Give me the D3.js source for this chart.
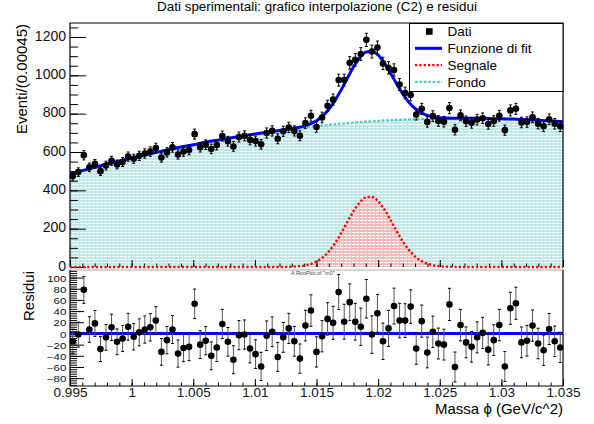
<!DOCTYPE html>
<html>
<head>
<meta charset="utf-8">
<script src="https://cdn.jsdelivr.net/npm/d3@7"></script>
<style>
body { margin: 0; background: #fff; }
text { font-family: 'Liberation Sans', Arial, sans-serif; }
</style>
</head>
<body>
<div id="chart"></div>
<script>
const width = 594
const height = 424
const left = 70
const right = 563
const top_y0 = 23
const top_y1 = 267
const res_y0 = 270
const res_y1 = 386

// histogram binning
const mass_min = 0.995
const mass_max = 1.035
const n_bins = 89

// events per bin
const counts = [475, 495, 583, 520, 538, 500, 529, 554, 535, 548,
    576, 565, 580, 592, 602, 621, 571, 598, 624, 587,
    602, 610, 693, 625, 638, 616, 636, 683, 656, 629,
    678, 684, 663, 657, 640, 699, 710, 669, 708, 728,
    710, 685, 751, 789, 730, 780, 841, 873, 975, 975,
    1065, 1081, 1111, 1185, 1124, 1145, 1062, 1039, 1028, 952,
    908, 897, 795, 825, 757, 787, 762, 758, 829, 716,
    791, 760, 752, 769, 776, 746, 762, 789, 714, 817,
    825, 754, 756, 781, 748, 734, 771, 747, 734]

// residuals (data - fit)
const residuals = [-14, -2, 78, 7, 18, -28, -7, 11, -15, -9,
    12, -6, 2, 7, 11, 23, -33, -12, 7, -36,
    -26, -24, 53, -20, -13, -40, -25, 17, -15, -47,
    -3, -2, -27, -37, -59, -4, 3, -42, -7, 9,
    -14, -45, 14, 41, -33, -5, 26, 19, 74, 21,
    56, 21, 12, 62, -2, 36, -14, 9, 49, 23,
    23, 48, -27, 22, -34, 3, -18, -20, 52, -60,
    15, -16, -24, -7, 1, -29, -12, 15, -59, 45,
    54, -16, -13, 14, -18, -30, 8, -14, -25]

// fit curves sampled along the mass axis
const fit_mass = [0.995, 0.996, 0.997, 0.998, 0.999, 1.000, 1.001, 1.002, 1.003, 1.004,
    1.005, 1.006, 1.007, 1.008, 1.009, 1.010, 1.011, 1.012,
    1.0125, 1.013, 1.0135, 1.014, 1.0145, 1.015, 1.0155, 1.016, 1.0165, 1.017,
    1.0175, 1.018, 1.0185, 1.019, 1.0195, 1.020, 1.0205, 1.021, 1.0215, 1.022,
    1.0225, 1.023, 1.0235, 1.024, 1.0245, 1.025, 1.0255, 1.026, 1.0265,
    1.027, 1.028, 1.029, 1.030, 1.031, 1.032, 1.033, 1.034, 1.035]
const fit_total = [485, 503, 520, 537, 553, 569, 584, 598, 612, 626,
    638, 651, 662, 673, 684, 694, 703, 712,
    717, 722, 728, 735, 747, 763, 788, 823, 869, 924,
    985, 1044, 1092, 1121, 1126, 1106, 1065, 1012, 956, 903,
    859, 827, 805, 791, 783, 779, 777, 776, 776,
    776, 776, 775, 773, 772, 769, 766, 762, 758]
const fit_background = [485, 503, 520, 537, 553, 569, 584, 598, 612, 626,
    638, 651, 662, 673, 684, 694, 703, 712,
    716, 720, 724, 728, 732, 735, 738, 742, 745, 748,
    750, 753, 756, 758, 760, 762, 764, 766, 767, 769,
    770, 772, 773, 773, 774, 775, 775, 776, 776,
    776, 776, 775, 773, 772, 769, 766, 762, 758]
const fit_signal = [0, 0, 0, 0, 0, 0, 0, 0, 0, 0,
    0, 0, 0, 0, 0, 0, 0, 0,
    0.6, 1.5, 3.5, 7.5, 15.2, 28.4, 49.8, 81.4, 124.2, 176.8,
    234.9, 291.2, 336.8, 363.4, 366, 343.9, 301.4, 246.6, 188.2, 134.1,
    89.1, 55.3, 32, 17.3, 8.7, 4.1, 1.8, 0.7, 0.3,
    0, 0, 0, 0, 0, 0, 0, 0, 0]

const x_ticks = [0.995, 1, 1.005, 1.01, 1.015, 1.02, 1.025, 1.03, 1.035]
const y_ticks_top = [0, 200, 400, 600, 800, 1000, 1200]
const y_ticks_res = [-80, -60, -40, -20, 0, 20, 40, 60, 80, 100]
const legend_labels = ['Dati', 'Funzione di fit', 'Segnale', 'Fondo']

const fit_color = '#0000ff'
const signal_color = '#ff0000'
const background_color = '#5fc9c9'

const svg = d3.select('#chart')
    .append('svg')
    .attr('width', width)
    .attr('height', height)

const defs = svg.append('defs')
make_pattern('fill_bkg', '#bfe9e9')
make_pattern('fill_sig', '#f4bcbc')

const x = d3.scaleLinear().domain([mass_min, mass_max]).range([left, right])
const y_top = d3.scaleLinear().domain([0, 1273]).range([top_y1, top_y0])
const y_res = d3.scaleLinear().domain([-94, 113.5]).range([res_y1, res_y0])

const bin_width = (mass_max - mass_min) / n_bins
const bins = counts.map((c, i) => ({
    mass: mass_min + (i + 0.5) * bin_width,
    count: c,
    err: Math.sqrt(c),
    res: residuals[i]
}))
const curve = fit_mass.map((m, i) => ({
    mass: m, total: fit_total[i], bkg: fit_background[i], sig: fit_signal[i]
}))

// title
svg.append('text')
    .attr('x', 317)
    .attr('y', 10.5)
    .attr('text-anchor', 'middle')
    .attr('font-size', 12)
    .attr('textLength', 320)
    .attr('lengthAdjust', 'spacingAndGlyphs')
    .text('Dati sperimentali: grafico interpolazione (C2) e residui')

// ---------- top panel ----------
const area_bkg = d3.area().x(d => x(d.mass)).y0(y_top(0)).y1(d => y_top(d.bkg)).curve(d3.curveMonotoneX)
const area_sig = d3.area().x(d => x(d.mass)).y0(y_top(0)).y1(d => y_top(d.sig)).curve(d3.curveMonotoneX)
svg.append('path').attr('d', area_bkg(curve)).attr('fill', 'url(#fill_bkg)')
svg.append('path').attr('d', area_sig(curve)).attr('fill', 'url(#fill_sig)')

draw_y_axis(y_top, y_ticks_top, d3.range(0, 1251, 50), 16, 8, 14, 1, 4, '0.22em')
draw_x_axis(top_y1, false, 7, 3.5)

svg.append('path')
    .attr('d', `M${left},${top_y1}V${top_y0}H${right}V${top_y1}`)
    .attr('fill', 'none').attr('stroke', 'black').attr('stroke-width', 1.2)

const line_of = key => d3.line().x(d => x(d.mass)).y(d => y_top(d[key])).curve(d3.curveMonotoneX)

svg.append('path')
    .attr('d', line_of('sig')(curve))
    .attr('fill', 'none').attr('stroke', signal_color).attr('stroke-width', 2.4)
    .attr('stroke-dasharray', '2.3,2')
svg.append('path')
    .attr('d', line_of('bkg')(curve))
    .attr('fill', 'none').attr('stroke', background_color).attr('stroke-width', 2.4)
    .attr('stroke-dasharray', '2.8,1.6')
svg.append('path')
    .attr('d', line_of('total')(curve))
    .attr('fill', 'none').attr('stroke', fit_color).attr('stroke-width', 3)

draw_points(bins, d => y_top(d.count), d => y_top(d.count + d.err), d => y_top(d.count - d.err), 'black')

// legend
const lg = svg.append('g')
lg.append('rect')
    .attr('x', 409.5).attr('y', 23.5).attr('width', 153.5).attr('height', 68)
    .attr('fill', 'white').attr('stroke', 'black').attr('stroke-width', 1)
legend_labels.forEach((label, i) => {
    const ly = 31.5 + i * 16.8
    if (i === 0) {
        lg.append('rect').attr('x', 426).attr('y', ly - 3.3).attr('width', 6.6).attr('height', 6.6).attr('fill', 'black')
    } else {
        const colors = [null, fit_color, signal_color, background_color]
        const l = lg.append('line')
            .attr('x1', 415).attr('x2', 442).attr('y1', ly).attr('y2', ly)
            .attr('stroke', colors[i]).attr('stroke-width', i === 1 ? 3 : 2.4)
        if (i === 2) l.attr('stroke-dasharray', '2.3,2')
        if (i === 3) l.attr('stroke-dasharray', '2.8,1.6')
    }
    lg.append('text')
        .attr('x', 447.5).attr('y', ly).attr('dy', '0.36em')
        .attr('font-size', 13.5)
        .text(label)
})

svg.append('text')
    .attr('transform', `translate(27,${top_y0 + 1}) rotate(-90)`)
    .attr('text-anchor', 'end')
    .attr('font-size', 15)
    .text('Eventi/(0.00045)')

// ---------- residual panel ----------
svg.append('text')
    .attr('x', 291).attr('y', 275)
    .attr('font-size', 5.5).attr('fill', '#444')
    .text('A RooPlot of "m0"')

// residual tick labels are short and wide in the original
draw_y_axis(y_res, y_ticks_res, d3.range(-92, 113, 4), 14, 7, 8.2, 1.4, 2.6, '0.45em')
draw_x_axis(res_y1, true, 7, 3.5)

svg.append('line')
    .attr('x1', left).attr('x2', right).attr('y1', res_y0).attr('y2', res_y0)
    .attr('stroke', '#aaa').attr('stroke-width', 1)
svg.append('path')
    .attr('d', `M${left},${res_y0}V${res_y1}H${right}V${res_y0}`)
    .attr('fill', 'none').attr('stroke', 'black').attr('stroke-width', 1.2)

svg.append('line')
    .attr('x1', left).attr('x2', right).attr('y1', y_res(0)).attr('y2', y_res(0))
    .attr('stroke', fit_color).attr('stroke-width', 3)

draw_points(bins, d => y_res(d.res), d => y_res(d.res + d.err), d => y_res(d.res - d.err), '#555')

svg.append('text')
    .attr('x', right).attr('y', 414)
    .attr('text-anchor', 'end')
    .attr('font-size', 15)
    .text('Massa ϕ (GeV/c^2)')

svg.append('text')
    .attr('transform', `translate(34,${res_y0 + 1}) rotate(-90)`)
    .attr('text-anchor', 'end')
    .attr('font-size', 15)
    .text('Residui')

function make_pattern(id, base) {
    const p = defs.append('pattern')
        .attr('id', id)
        .attr('width', 4).attr('height', 3)
        .attr('patternUnits', 'userSpaceOnUse')
    p.append('rect').attr('width', 4).attr('height', 3).attr('fill', base)
    p.append('rect').attr('x', 0).attr('y', 1).attr('width', 3).attr('height', 1).attr('fill', 'white')
}

function draw_y_axis(scale, major, minor, major_len, minor_len, font_size, stretch, padding, dy) {
    svg.append('g')
        .attr('transform', `translate(${left},0)`)
        .call(d3.axisLeft(scale).tickValues(minor).tickSize(-minor_len).tickFormat(''))
        .call(g => g.select('.domain').remove())
        .selectAll('line').attr('stroke', 'black')
    const g = svg.append('g')
        .attr('transform', `translate(${left},0)`)
        .call(d3.axisLeft(scale).tickValues(major).tickSize(-major_len).tickPadding(padding).tickFormat(d3.format('d')))
        .call(g => g.select('.domain').remove())
    g.selectAll('line').attr('stroke', 'black')
    g.selectAll('text')
        .attr('font-size', font_size)
        .attr('font-family', "'Liberation Sans', Arial, sans-serif")
        .attr('fill', '#111')
        .attr('dy', dy)
        .attr('transform', `scale(${stretch},1)`)
}

function draw_x_axis(y_pos, labels, major_len, minor_len) {
    svg.append('g')
        .attr('transform', `translate(0,${y_pos})`)
        .call(d3.axisBottom(x).tickValues(d3.range(0, 41).map(k => mass_min + k * 0.001)).tickSize(-minor_len).tickFormat(''))
        .call(g => g.select('.domain').remove())
        .selectAll('line').attr('stroke', 'black')
    const g = svg.append('g')
        .attr('transform', `translate(0,${y_pos})`)
        .call(d3.axisBottom(x).tickValues(x_ticks).tickSize(-major_len).tickPadding(1.5)
            .tickFormat(d => labels ? String(+d.toFixed(3)) : ''))
        .call(g => g.select('.domain').remove())
    g.selectAll('line').attr('stroke', 'black')
    g.selectAll('text')
        .attr('font-size', 13.5)
        .attr('font-family', "'Liberation Sans', Arial, sans-serif")
        .attr('fill', '#111')
}

function draw_points(data, cy, hi, lo, bar_color) {
    const g = svg.append('g')
    g.selectAll('line.bar')
        .data(data).enter().append('line')
        .attr('class', 'bar')
        .attr('x1', d => x(d.mass)).attr('x2', d => x(d.mass))
        .attr('y1', hi).attr('y2', lo)
        .attr('stroke', bar_color).attr('stroke-width', 1)
    g.selectAll('path.cap')
        .data(data).enter().append('path')
        .attr('class', 'cap')
        .attr('d', d => `M${x(d.mass) - 1.5},${hi(d)}h3M${x(d.mass) - 1.5},${lo(d)}h3`)
        .attr('stroke', 'black').attr('stroke-width', 1)
    g.selectAll('circle')
        .data(data).enter().append('circle')
        .attr('cx', d => x(d.mass))
        .attr('cy', cy)
        .attr('r', 3.3)
        .attr('fill', 'black')
}
</script>
</body>
</html>
